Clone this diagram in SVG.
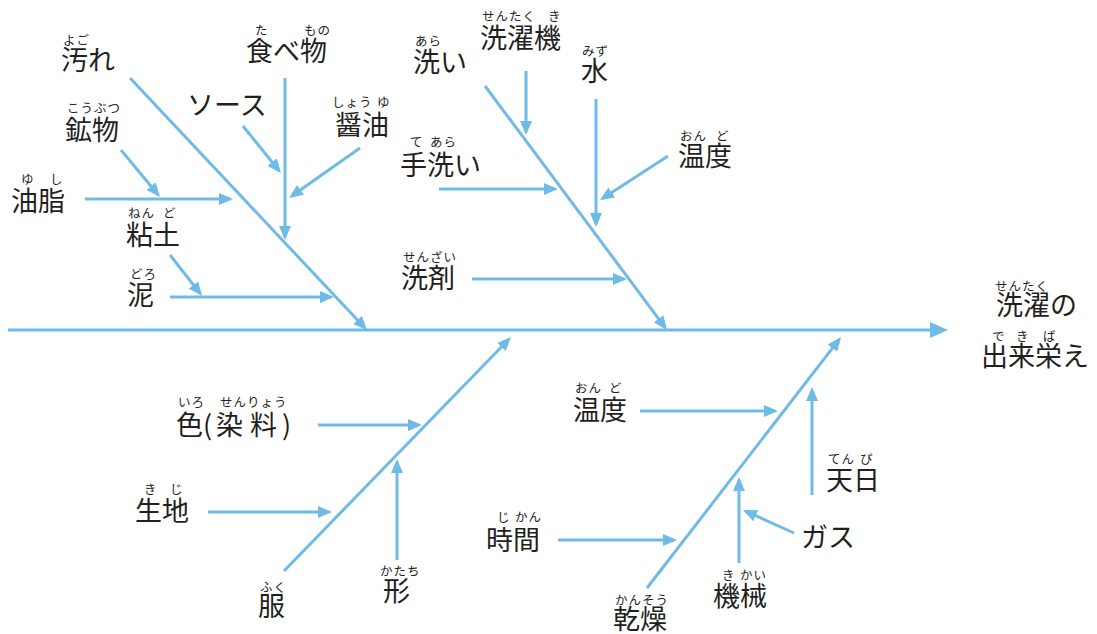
<svg xmlns="http://www.w3.org/2000/svg" width="1097" height="634" viewBox="0 0 1097 634">
<style>
.l{stroke:#6fbbe8;stroke-width:3;fill:none;marker-end:url(#a)}
.sp{stroke:#6fbbe8;stroke-width:3;fill:none;marker-end:url(#b)}
text{font-family:"Noto Sans CJK JP","Noto Sans",sans-serif;fill:#231f20}
.t{font-size:27px}
.r{font-size:12.5px;letter-spacing:1px}
</style>
<defs>
<marker id="a" viewBox="0 0 14 12" refX="11" refY="6" markerWidth="14" markerHeight="12" markerUnits="userSpaceOnUse" orient="auto"><path d="M0,0 L14,6 L0,12 z" fill="#6fbbe8"/></marker>
<marker id="b" viewBox="0 0 18 16" refX="14" refY="8" markerWidth="18" markerHeight="16" markerUnits="userSpaceOnUse" orient="auto"><path d="M0,0 L18,8 L0,16 z" fill="#6fbbe8"/></marker>
</defs>
<rect width="1097" height="634" fill="#ffffff"/>
<g id="connectors">
<line class="sp" x1="8" y1="330" x2="944" y2="330"/>
<line class="l" x1="130" y1="78" x2="365" y2="328"/>
<line class="l" x1="485" y1="86" x2="665.2" y2="327.6"/>
<line class="l" x1="284" y1="571" x2="508.9" y2="339.2"/>
<line class="l" x1="647" y1="588" x2="839.2" y2="339.4"/>
<line class="l" x1="285" y1="78" x2="285" y2="237"/>
<line class="l" x1="243" y1="126" x2="279.1" y2="170.7"/>
<line class="l" x1="360" y1="148" x2="291.5" y2="196.3"/>
<line class="l" x1="121" y1="150" x2="158.1" y2="194.7"/>
<line class="l" x1="85" y1="199" x2="230" y2="199"/>
<line class="l" x1="170" y1="255" x2="200.2" y2="293.6"/>
<line class="l" x1="170" y1="297" x2="331" y2="297"/>
<line class="l" x1="526" y1="71" x2="526" y2="132"/>
<line class="l" x1="596" y1="99" x2="596" y2="224"/>
<line class="l" x1="668" y1="156" x2="602.5" y2="198.4"/>
<line class="l" x1="439" y1="189" x2="555" y2="189"/>
<line class="l" x1="472" y1="279" x2="624" y2="279"/>
<line class="l" x1="318" y1="425" x2="419" y2="425"/>
<line class="l" x1="208" y1="512" x2="329" y2="512"/>
<line class="l" x1="397" y1="560" x2="397" y2="462"/>
<line class="l" x1="640" y1="411" x2="775" y2="411"/>
<line class="l" x1="812" y1="495" x2="812" y2="390"/>
<line class="l" x1="558" y1="540" x2="674" y2="540"/>
<line class="l" x1="739" y1="563" x2="739" y2="480"/>
<line class="l" x1="794" y1="533" x2="745.7" y2="511.2"/>
</g>
<g id="n-yogore"><text class="r" x="63" y="45">よご</text><text class="t" x="61" y="70">汚れ</text></g>
<g id="n-tabemono"><text class="r" x="255" y="35">た</text><text class="r" x="304" y="35">もの</text><text class="t" x="246" y="61">食べ物</text></g>
<g id="n-sauce"><text class="t" x="187" y="115">ソース</text></g>
<g id="n-shoyu"><text class="r" x="332" y="107">しょう</text><text class="r" x="377" y="107">ゆ</text><text class="t" x="335" y="135">醤油</text></g>
<g id="n-kobutsu"><text class="r" x="67" y="113">こうぶつ</text><text class="t" x="65" y="140">鉱物</text></g>
<g id="n-yushi"><text class="r" x="21" y="184">ゆ</text><text class="r" x="50" y="184">し</text><text class="t" x="11" y="211">油脂</text></g>
<g id="n-nendo"><text class="r" x="128" y="218">ねん</text><text class="r" x="163" y="218">ど</text><text class="t" x="126" y="245">粘土</text></g>
<g id="n-doro"><text class="r" x="130" y="279">どろ</text><text class="t" x="127" y="305">泥</text></g>
<g id="n-arai"><text class="r" x="415" y="46">あら</text><text class="t" x="413" y="72">洗い</text></g>
<g id="n-sentakuki"><text class="r" x="482" y="21">せんたく</text><text class="r" x="548" y="21">き</text><text class="t" x="480" y="48">洗濯機</text></g>
<g id="n-mizu"><text class="r" x="582" y="56">みず</text><text class="t" x="581" y="81">水</text></g>
<g id="n-ondo1"><text class="r" x="680" y="141">おん</text><text class="r" x="716" y="141">ど</text><text class="t" x="678" y="166">温度</text></g>
<g id="n-tearai"><text class="r" x="410" y="147">て</text><text class="r" x="430" y="147">あら</text><text class="t" x="400" y="175">手洗い</text></g>
<g id="n-senzai"><text class="r" x="403" y="262">せんざい</text><text class="t" x="401" y="288">洗剤</text></g>
<g id="n-result"><text class="r" x="995" y="291">せんたく</text><text class="t" x="996" y="315">洗濯の</text><text class="r" x="992" y="341">で</text><text class="r" x="1016" y="341">き</text><text class="r" x="1043" y="341">ば</text><text class="t" x="981" y="366">出来栄え</text></g>
<g id="n-iro"><text class="r" x="178" y="407">いろ</text><text class="r" x="220" y="407">せんりょう</text><text class="t" x="176 203 216 250 282" y="435">色(染料)</text></g>
<g id="n-kiji"><text class="r" x="144" y="494">き</text><text class="r" x="170" y="494">じ</text><text class="t" x="135" y="521">生地</text></g>
<g id="n-fuku"><text class="r" x="260" y="592">ふく</text><text class="t" x="258" y="616">服</text></g>
<g id="n-katachi"><text class="r" x="380" y="576">かたち</text><text class="t" x="383" y="601">形</text></g>
<g id="n-ondo2"><text class="r" x="575" y="393">おん</text><text class="r" x="609" y="393">ど</text><text class="t" x="573" y="420">温度</text></g>
<g id="n-tenpi"><text class="r" x="828" y="464">てん</text><text class="r" x="860" y="464">ぴ</text><text class="t" x="826" y="490">天日</text></g>
<g id="n-jikan"><text class="r" x="497" y="522">じ</text><text class="r" x="515" y="522">かん</text><text class="t" x="486" y="550">時間</text></g>
<g id="n-gas"><text class="t" x="801" y="547">ガス</text></g>
<g id="n-kikai"><text class="r" x="722" y="580">き</text><text class="r" x="740" y="580">かい</text><text class="t" x="713" y="606">機械</text></g>
<g id="n-kanso"><text class="r" x="615" y="605">かんそう</text><text class="t" x="613" y="629">乾燥</text></g>
</svg>
